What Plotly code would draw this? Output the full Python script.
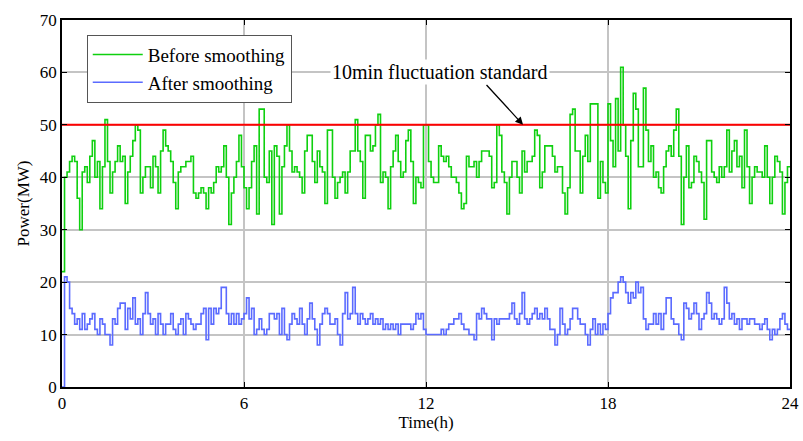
import plotly.graph_objects as go

# 5-minute samples over 24 h
step_h = 1 / 12

before = [
    22, 40, 41, 43, 44, 43, 36, 30, 41, 42, 39, 44, 47, 40, 43, 34, 42, 51, 43, 37,
    41, 43, 46, 43, 44, 35, 41, 44, 47, 50, 49, 37, 40, 42, 42, 38, 44, 42, 37, 45,
    49, 46, 45, 43, 39, 34, 41,
    42, 42, 43, 43, 44, 37, 36, 37, 38, 37, 34, 38, 37, 39, 42, 41, 42, 46, 40, 31,
    37, 40, 43, 48, 42, 38, 34, 38, 43, 46, 33, 53, 53, 40, 39, 45, 31, 46, 44, 33,
    42, 46, 50, 45, 41, 42, 41, 40,
    37, 45, 48, 48, 43, 39, 45, 42, 41, 35, 49, 49, 40, 36, 39, 40, 41, 37, 41, 45,
    45, 51, 45, 43, 36, 48, 48, 45, 46, 50, 52, 39, 41, 40, 34, 42, 45, 48, 43, 40,
    41, 47, 49, 43, 35, 40, 39,
    38, 50, 50, 43, 40, 39, 39, 46, 44, 43, 44, 42, 40, 40, 39, 37, 34, 35, 44, 42,
    42, 43, 40, 43, 45, 45, 45, 44, 38, 39, 50, 48, 41, 39, 33, 40, 43, 43, 40, 37,
    45, 41, 43, 43, 44, 49, 48, 38,
    41, 46, 46, 46, 44, 41, 42, 42, 37, 33, 38, 52, 53, 45, 45, 37, 44, 48, 43, 54,
    54, 54, 36, 43, 39, 37, 54, 47, 42, 55, 45, 61, 50, 44, 34, 47, 56, 53, 42, 42,
    57, 49, 43, 46, 40, 41, 38,
    37, 42, 45, 46, 44, 49, 53, 44, 31, 40, 46, 38, 39, 44, 43, 41, 39, 32, 47, 47,
    41, 40, 39, 42, 40, 42, 49, 41, 45, 47, 42, 44, 38, 49, 42, 35, 40, 42, 41, 41,
    40, 46, 40, 35, 40, 44, 43, 41, 33, 39, 42,
]

after = [
    0, 21, 20, 15, 14, 12, 13, 11, 14, 11, 12, 13, 14, 11, 10, 13, 12, 10, 10, 8,
    13, 12, 15, 16, 16, 11, 15, 13, 17, 12, 13, 10, 14, 18, 14, 12, 13, 10, 14, 12,
    10, 12, 12, 14, 11, 10, 12,
    13, 10, 14, 13, 12, 11, 12, 12, 14, 15, 9, 15, 12, 15, 14, 15, 19, 19, 14, 12,
    14, 12, 14, 12, 13, 14, 17, 13, 15, 10, 11, 13, 11, 10, 11, 14, 14, 13, 14, 10,
    15, 10, 9, 12, 14, 13, 12, 15,
    12, 10, 13, 16, 13, 11, 8, 12, 14, 15, 14, 12, 12, 13, 10, 8, 14, 18, 13, 14,
    19, 14, 12, 14, 13, 12, 13, 14, 12, 13, 12, 13, 11, 12, 11, 12, 11, 12, 10, 12,
    12, 12, 12, 11, 12, 14, 13,
    14, 11, 10, 10, 10, 10, 10, 10, 11, 10, 11, 12, 12, 13, 13, 14, 12, 11, 11, 10,
    10, 9, 14, 13, 15, 14, 13, 13, 9, 13, 12, 13, 13, 13, 13, 14, 16, 13, 12, 14,
    18, 13, 12, 13, 14, 15, 13, 14,
    13, 15, 13, 11, 11, 8, 10, 15, 12, 10, 11, 13, 15, 15, 13, 12, 12, 10, 8, 11,
    13, 10, 12, 10, 12, 11, 14, 17, 18, 18, 20, 21, 20, 18, 16, 18, 17, 20, 18, 19,
    13, 11, 12, 12, 14, 12, 14,
    11, 14, 17, 17, 13, 12, 12, 10, 9, 16, 15, 13, 14, 16, 14, 11, 13, 14, 18, 16,
    13, 14, 13, 12, 13, 19, 16, 13, 14, 12, 13, 11, 13, 13, 12, 13, 13, 12, 12, 11,
    12, 13, 11, 9, 11, 10, 11, 13, 14, 12, 11,
]

standard_value = 50
x_ticks = [0, 6, 12, 18, 24]
y_ticks = [0, 10, 20, 30, 40, 50, 60, 70]

times = [i * step_h for i in range(len(before) + 1)]
before_ext = before + [before[-1]]
after_ext = after + [after[-1]]

FONT = "Liberation Serif"

fig = go.Figure()
fig.add_trace(go.Scatter(x=times, y=before_ext, mode="lines", line_shape="hv",
                         line=dict(color="#0FD00F", width=1.6), name="Before smoothing"))
fig.add_trace(go.Scatter(x=times, y=after_ext, mode="lines", line_shape="hv",
                         line=dict(color="#5B6BFF", width=1.6), name="After smoothing"))
fig.add_trace(go.Scatter(x=[0, 24], y=[standard_value, standard_value], mode="lines",
                         line=dict(color="#FF0000", width=2), showlegend=False))

fig.add_annotation(x=12.45, y=60.1, text="10min fluctuation standard", showarrow=False,
                   font=dict(family=FONT, size=20, color="black"), bgcolor="white")
fig.add_annotation(x=15.2, y=standard_value, ax=13.95, ay=57.9, axref="x", ayref="y",
                   text="", showarrow=True, arrowhead=2, arrowsize=1.2, arrowwidth=1.3,
                   arrowcolor="black")

axis_common = dict(showline=True, linecolor="black", linewidth=1.5, mirror="ticks",
                   ticks="inside", ticklen=5, tickwidth=1.3, tickcolor="black",
                   showgrid=True, gridcolor="#C4C4C4", gridwidth=1.5, zeroline=False,
                   automargin=False,
                   tickfont=dict(family=FONT, size=17, color="black"))

fig.update_xaxes(range=[0, 24], tickvals=x_ticks,
                 title=dict(text="Time(h)", font=dict(family=FONT, size=17, color="black"), standoff=4),
                 **axis_common)
fig.update_yaxes(range=[0, 70], tickvals=y_ticks,
                 title=dict(text="Power(MW)", font=dict(family=FONT, size=17, color="black"), standoff=6),
                 **axis_common)

fig.update_layout(
    width=803, height=441,
    margin=dict(l=62, r=13, t=20, b=54, autoexpand=False),
    paper_bgcolor="white", plot_bgcolor="white",
    legend=dict(x=0.034, y=0.96, xanchor="left", yanchor="top",
                bgcolor="white", bordercolor="#555555", borderwidth=1,
                font=dict(family=FONT, size=19, color="black"),
                itemwidth=50, tracegroupgap=0),
    showlegend=True,
)

fig.write_html("out.html", config={"displayModeBar": False},
               post_script="document.body.style.margin='0';document.body.style.overflow='hidden';")
